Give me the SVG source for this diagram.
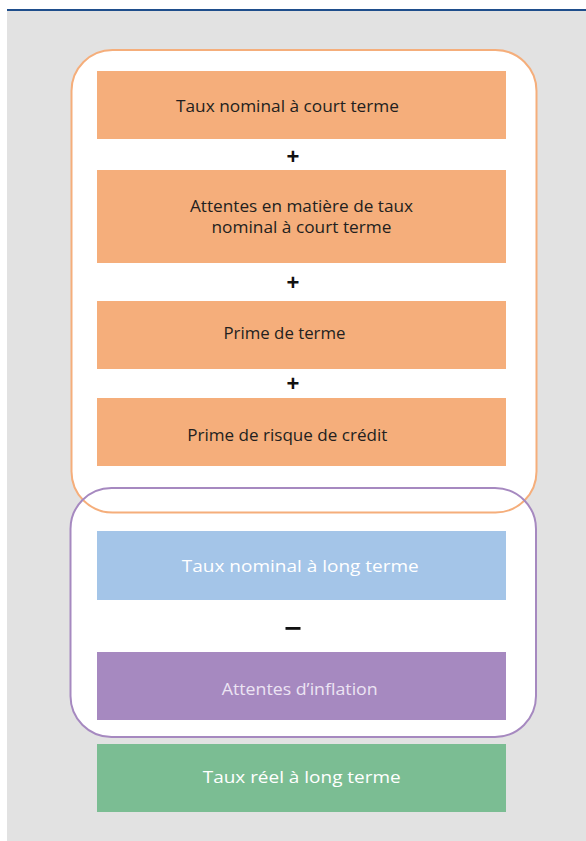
<svg xmlns="http://www.w3.org/2000/svg" width="586" height="841" viewBox="0 0 586 841">
<style>
.box{stroke:none}
.or{fill:#f5ae7b}
.bl{fill:#a4c5e8}
.pu{fill:#a689c0}
.gr{fill:#7bbd93}
.t{font-family:"Open Sans","Liberation Sans",sans-serif;font-size:17px;text-anchor:middle}
.dk{fill:#231f20}
.wh{fill:#ffffff}
.op{font-family:"Liberation Sans",sans-serif;font-weight:bold;font-size:22px;text-anchor:middle;fill:#111}
</style>
<rect x="0" y="0" width="586" height="841" fill="#ffffff"/>
<rect x="7" y="11" width="579" height="830" fill="#e2e2e2"/>
<rect x="7" y="9" width="579" height="2" fill="#1f4e8c"/>
<g id="frames">
<rect x="71.5" y="50" width="465" height="462.5" rx="41" fill="#ffffff"/>
<rect x="70.5" y="488" width="465.5" height="249" rx="41" fill="#ffffff"/>
<rect x="71.5" y="50" width="465" height="462.5" rx="41" fill="none" stroke="#f5ae7b" stroke-width="2"/>
<rect x="70.5" y="488" width="465.5" height="249" rx="41" fill="none" stroke="#a689c0" stroke-width="2"/>
</g>
<g id="n1"><rect class="box or" x="97" y="71" width="409" height="68"/><text class="t dk" x="287.5" y="111.5" textLength="223" lengthAdjust="spacingAndGlyphs">Taux nominal à court terme</text></g>
<g id="op1"><text class="op" x="293" y="164">+</text></g>
<g id="n2"><rect class="box or" x="97" y="170" width="409" height="93"/><text class="t dk" x="301.5" y="211.5" textLength="223" lengthAdjust="spacingAndGlyphs">Attentes en matière de taux</text><text class="t dk" x="301.5" y="232.5" textLength="180" lengthAdjust="spacingAndGlyphs">nominal à court terme</text></g>
<g id="op2"><text class="op" x="293" y="289.5">+</text></g>
<g id="n3"><rect class="box or" x="97" y="301" width="409" height="68"/><text class="t dk" x="284.5" y="339" textLength="122" lengthAdjust="spacingAndGlyphs">Prime de terme</text></g>
<g id="op3"><text class="op" x="293" y="390.5">+</text></g>
<g id="n4"><rect class="box or" x="97" y="398" width="409" height="68"/><text class="t dk" x="287.3" y="440.5" textLength="200" lengthAdjust="spacingAndGlyphs">Prime de risque de crédit</text></g>
<g id="n5"><rect class="box bl" x="97" y="531" width="409" height="69"/><text class="t wh" x="300.3" y="571.5" textLength="237" lengthAdjust="spacingAndGlyphs">Taux nominal à long terme</text></g>
<g id="op4"><rect x="285.5" y="627" width="15" height="2.8" fill="#111"/></g>
<g id="n6"><rect class="box pu" x="97" y="652" width="409" height="68"/><text class="t" fill="#ece4f3" x="299.7" y="695" textLength="156" lengthAdjust="spacingAndGlyphs">Attentes d’inflation</text></g>
<g id="n7"><rect class="box gr" x="97" y="744" width="409" height="68"/><text class="t wh" x="301.7" y="782.5" textLength="198" lengthAdjust="spacingAndGlyphs">Taux réel à long terme</text></g>
<g id="connectors"></g>
</svg>
